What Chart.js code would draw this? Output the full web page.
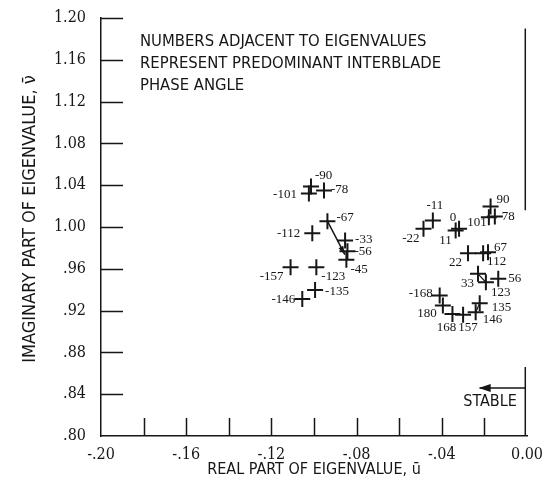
<!DOCTYPE html>
<html>
<head>
<meta charset="utf-8">
<script src="https://cdn.jsdelivr.net/npm/chart.js@4.4.1/dist/chart.umd.min.js"></script>
<style>
  html, body { margin: 0; padding: 0; background: #fff; }
  #wrap { width: 547px; height: 481px; }
</style>
</head>
<body>
<div id="wrap"><canvas id="eigenChart" width="547" height="481"></canvas></div>
<script>
// predominant interblade phase angle of each eigenvalue
const phaseAngles = [
  -90, -101, -78, -67, -112, -33, -56, -45, -157, -123, -146, -135,
  -11, -22, 0, 11, 101, 90, 78, 67, 22, 112, 33, 123, 56, -168, 180, 168, 157, 146, 135
];
// real part of eigenvalue (u bar)
const realParts = [
  -0.1014, -0.1024, -0.0953, -0.0937, -0.1008, -0.0854, -0.0843, -0.0848, -0.1110, -0.0989, -0.1055, -0.0995,
  -0.0442, -0.0486, -0.0319, -0.0335, -0.0179, -0.0171, -0.0151, -0.0183, -0.0277, -0.0206, -0.0230, -0.0193,
  -0.0135, -0.0410, -0.0395, -0.0350, -0.0300, -0.0241, -0.0222
];
// imaginary part of eigenvalue (nu bar)
const imagParts = [
  1.0388, 1.0321, 1.0350, 1.0056, 0.9940, 0.9871, 0.9768, 0.9686, 0.9615, 0.9615, 0.9312, 0.9398,
  1.0063, 0.9983, 0.9983, 0.9967, 1.0094, 1.0197, 1.0101, 0.9759, 0.9749, 0.9749, 0.9552, 0.9471,
  0.9504, 0.9344, 0.9248, 0.9168, 0.9161, 0.9184, 0.9270
];
// trend arrow in the left group, from the -67 mode down toward -45
const trendU = [-0.0937, -0.0855];
const trendV = [1.0056, 0.9735];
// short connectors between neighbouring modes (pairs of indices)
const linkedPairs = [[21, 19], [22, 23], [29, 30]];

const xTickLabels = { '-0.2': '-.20', '-0.16': '-.16', '-0.12': '-.12', '-0.08': '-.08', '-0.04': '-.04', '0': '0.00' };
const yTickLabels = ['.80', '.84', '.88', '.92', '.96', '1.00', '1.04', '1.08', '1.12', '1.16', '1.20'];

// where each angle label sits next to its cross: [dx, dy, align]
const labelPlace = [
  [4, -11, 'left'], [-12, 1, 'right'], [7, -1, 'left'], [9, -4, 'left'], [-12, 0, 'right'],
  [10, -1, 'left'], [7, 0, 'left'], [4, 10, 'left'], [-7, 9, 'right'], [5, 9, 'left'],
  [-7, 1, 'right'], [10, 2, 'left'],
  [2, -15, 'center'], [-4, 10, 'right'], [-6, -11, 'center'], [-4, 10, 'right'], [-2, 5, 'right'],
  [6, -7, 'left'], [7, 0, 'left'], [6, -5, 'left'], [-6, 9, 'right'], [4, 8, 'left'],
  [-4, 10, 'right'], [5, 10, 'left'], [10, 0, 'left'], [-7, -2, 'right'], [-6, 8, 'right'],
  [-6, 14, 'center'], [5, 13, 'center'], [7, 7, 'left'], [12, 4, 'left']
];

const ink = '#161616';
const points = realParts.map((u, i) => ({ x: u, y: imagParts[i] }));
const trend = trendU.map((u, i) => ({ x: u, y: trendV[i] }));
const links = [];
linkedPairs.forEach(([a, b]) => {
  links.push(points[a], points[b], { x: null, y: null });
});

// draws inward ticks, partial right frame, notes, point labels and arrows
const decorations = {
  id: 'decorations',
  afterDatasetsDraw(chart) {
    const { ctx, chartArea: area, scales: { x, y } } = chart;
    ctx.save();
    ctx.strokeStyle = ink;
    ctx.fillStyle = ink;
    ctx.lineWidth = 1.5;

    // ticks pointing into the plot
    ctx.beginPath();
    for (let v = 0.84; v < 1.2001; v += 0.04) {
      const py = Math.round(y.getPixelForValue(v)) + 0.5;
      ctx.moveTo(area.left, py);
      ctx.lineTo(area.left + 22, py);
    }
    for (let u = -0.18; u < -0.001; u += 0.02) {
      const px = Math.round(x.getPixelForValue(u)) + 0.5;
      ctx.moveTo(px, area.bottom);
      ctx.lineTo(px, area.bottom - 18);
    }
    // right frame, drawn only in two pieces
    const rx = x.getPixelForValue(-0.0008);
    ctx.moveTo(rx, y.getPixelForValue(1.19));
    ctx.lineTo(rx, y.getPixelForValue(1.016));
    ctx.moveTo(rx, y.getPixelForValue(0.866));
    ctx.lineTo(rx, area.bottom);
    ctx.stroke();

    // STABLE arrow
    const ay = y.getPixelForValue(0.846);
    const ax0 = x.getPixelForValue(-0.0222);
    ctx.beginPath();
    ctx.moveTo(rx, ay);
    ctx.lineTo(ax0, ay);
    ctx.stroke();
    ctx.beginPath();
    ctx.moveTo(ax0 - 1, ay);
    ctx.lineTo(ax0 + 11, ay - 4);
    ctx.lineTo(ax0 + 11, ay + 4);
    ctx.closePath();
    ctx.fill();
    ctx.font = '16px "DejaVu Sans Condensed"';
    ctx.textAlign = 'center';
    ctx.textBaseline = 'middle';
    ctx.fillText('STABLE', 490, 402);

    // arrowhead at the end of the trend line
    const p0 = { x: x.getPixelForValue(trendU[0]), y: y.getPixelForValue(trendV[0]) };
    const p1 = { x: x.getPixelForValue(trendU[1]), y: y.getPixelForValue(trendV[1]) };
    const ang = Math.atan2(p1.y - p0.y, p1.x - p0.x);
    ctx.beginPath();
    ctx.moveTo(p1.x, p1.y);
    ctx.lineTo(p1.x - 9 * Math.cos(ang - 0.3), p1.y - 9 * Math.sin(ang - 0.3));
    ctx.lineTo(p1.x - 9 * Math.cos(ang + 0.3), p1.y - 9 * Math.sin(ang + 0.3));
    ctx.closePath();
    ctx.fill();

    // note in the upper left
    ctx.font = '16.5px "DejaVu Sans Condensed"';
    ctx.textAlign = 'left';
    ctx.fillText('NUMBERS ADJACENT TO EIGENVALUES', 140, 42, 292);
    ctx.fillText('REPRESENT PREDOMINANT INTERBLADE', 140, 64, 304);
    ctx.fillText('PHASE ANGLE', 140, 86, 118);

    // vertical axis title
    ctx.save();
    ctx.translate(30, 219);
    ctx.rotate(-Math.PI / 2);
    ctx.textAlign = 'center';
    ctx.font = '18px "DejaVu Sans Condensed"';
    ctx.fillText('IMAGINARY PART OF EIGENVALUE, ν̄', 0, 0, 292);
    ctx.restore();

    // phase angle next to each cross
    ctx.font = '13px "Liberation Serif"';
    phaseAngles.forEach((a, i) => {
      const [dx, dy, align] = labelPlace[i];
      ctx.textAlign = align;
      ctx.fillText(String(a), x.getPixelForValue(realParts[i]) + dx, y.getPixelForValue(imagParts[i]) + dy);
    });
    ctx.restore();
  }
};

new Chart(document.getElementById('eigenChart'), {
  type: 'scatter',
  data: {
    datasets: [
      {
        data: points,
        pointStyle: 'cross',
        pointRadius: 8,
        pointBorderWidth: 2,
        borderColor: ink,
        backgroundColor: ink
      },
      {
        type: 'line',
        data: trend,
        borderColor: ink,
        borderWidth: 1.5,
        pointRadius: 0,
        fill: false
      },
      {
        type: 'line',
        data: links,
        borderColor: ink,
        borderWidth: 1.2,
        pointRadius: 0,
        spanGaps: false,
        fill: false
      }
    ]
  },
  options: {
    responsive: false,
    animation: false,
    events: [],
    layout: { padding: { top: 18, right: 20, left: 0, bottom: 0 } },
    plugins: { legend: { display: false }, tooltip: { enabled: false } },
    scales: {
      x: {
        type: 'linear',
        min: -0.2,
        max: 0,
        afterFit: s => { s.height = 45; },
        afterBuildTicks: s => {
          s.ticks = [-0.2, -0.16, -0.12, -0.08, -0.04, 0].map(v => ({ value: v }));
        },
        grid: { display: false },
        border: { display: true, color: ink, width: 1.5 },
        ticks: {
          padding: 1,
          color: ink,
          font: { family: 'DejaVu Serif Condensed', size: 16 },
          callback: v => xTickLabels[String(Math.round(v * 100) / 100)]
        },
        title: {
          display: true,
          text: 'REAL PART OF EIGENVALUE, ū',
          color: ink,
          font: { family: 'DejaVu Sans Condensed', size: 16 },
          padding: { top: 0, bottom: 2 }
        }
      },
      y: {
        type: 'linear',
        min: 0.8,
        max: 1.2,
        afterFit: s => { s.width = 101; },
        afterBuildTicks: s => {
          s.ticks = yTickLabels.map((t, i) => ({ value: 0.8 + i * 0.04 }));
        },
        grid: { display: false },
        border: { display: true, color: ink, width: 1.5 },
        ticks: {
          padding: 7,
          color: ink,
          font: { family: 'DejaVu Serif Condensed', size: 16 },
          callback: (v, i) => yTickLabels[i]
        },
        title: { display: false }
      }
    }
  },
  plugins: [decorations]
});
</script>
</body>
</html>
